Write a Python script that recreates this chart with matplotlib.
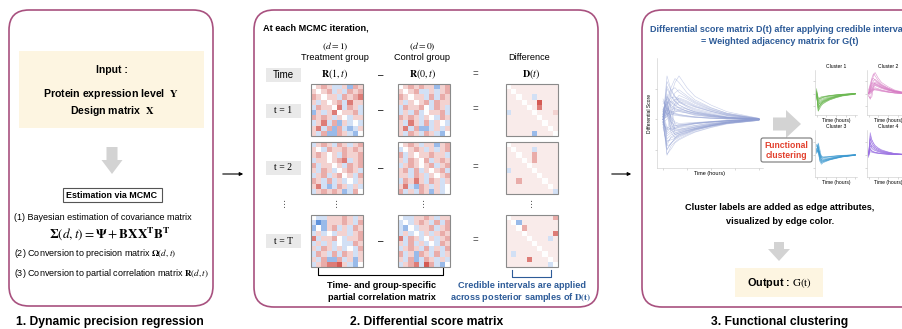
import numpy as np
import matplotlib.pyplot as plt
from matplotlib.patches import FancyBboxPatch, Rectangle, FancyArrow
from matplotlib.colors import LinearSegmentedColormap

plt.rcParams['font.family'] = ['Liberation Sans', 'DejaVu Sans']
plt.rcParams['mathtext.fontset'] = 'stix'

# time grid of the differential score curves (hours)
times = [0, 1, 2, 3, 4, 6, 8, 12, 16, 24]

# clustered differential score curves
cluster1 = [
    [0.05, -0.70, -0.52, -0.44, -0.38, -0.30, -0.24, -0.15, -0.08, -0.01],
    [0.15, -0.60, -0.46, -0.40, -0.35, -0.28, -0.22, -0.13, -0.07, 0.00],
    [-0.10, -0.52, -0.48, -0.36, -0.30, -0.25, -0.19, -0.12, -0.06, 0.01],
    [0.00, -0.45, -0.36, -0.33, -0.29, -0.23, -0.18, -0.11, -0.05, 0.00],
    [0.20, -0.38, -0.30, -0.27, -0.24, -0.19, -0.15, -0.09, -0.04, 0.01],
    [-0.05, -0.68, -0.58, -0.46, -0.40, -0.32, -0.25, -0.16, -0.09, -0.02],
    [-0.15, -0.50, -0.34, -0.30, -0.27, -0.21, -0.17, -0.10, -0.05, 0.00],
    [0.10, -0.42, -0.40, -0.37, -0.32, -0.26, -0.20, -0.12, -0.06, 0.00],
    [0.00, -0.32, -0.26, -0.22, -0.20, -0.16, -0.12, -0.07, -0.03, 0.01],
    [-0.05, -0.58, -0.47, -0.38, -0.33, -0.27, -0.21, -0.13, -0.07, -0.01],
    [0.05, -0.20, -0.18, -0.15, -0.13, -0.10, -0.08, -0.05, -0.02, 0.00],
    [-0.05, -0.25, -0.15, -0.12, -0.11, -0.09, -0.07, -0.04, -0.02, 0.00],
    [0.10, -0.15, -0.20, -0.17, -0.14, -0.11, -0.08, -0.05, -0.03, 0.00],
    [0.00, -0.28, -0.22, -0.18, -0.15, -0.12, -0.09, -0.06, -0.03, 0.01],
]
cluster2 = [
    [0.00, 0.22, 0.48, 0.72, 0.85, 0.62, 0.45, 0.28, 0.15, 0.02],
    [0.05, 0.18, 0.36, 0.52, 0.58, 0.46, 0.35, 0.22, 0.12, 0.01],
    [-0.05, -0.22, 0.10, 0.32, 0.42, 0.36, 0.28, 0.18, 0.10, 0.00],
    [0.10, 0.32, 0.42, 0.44, 0.40, 0.34, 0.26, 0.16, 0.09, 0.02],
    [0.00, 0.12, 0.27, 0.37, 0.47, 0.40, 0.31, 0.19, 0.10, 0.01],
    [-0.10, -0.18, -0.12, 0.26, 0.33, 0.27, 0.21, 0.13, 0.07, 0.00],
    [0.05, 0.27, 0.57, 0.62, 0.53, 0.43, 0.33, 0.20, 0.11, 0.01],
    [0.00, 0.06, 0.21, 0.30, 0.35, 0.30, 0.24, 0.15, 0.08, 0.00],
    [0.15, 0.38, 0.62, 0.80, 0.72, 0.52, 0.38, 0.23, 0.12, 0.02],
    [0.00, 0.14, 0.32, 0.40, 0.38, 0.32, 0.25, 0.16, 0.08, 0.01],
    [0.00, 0.05, 0.12, 0.18, 0.20, 0.17, 0.13, 0.08, 0.04, 0.00],
    [0.05, 0.10, 0.15, 0.16, 0.15, 0.13, 0.10, 0.06, 0.03, 0.00],
    [-0.05, 0.00, 0.08, 0.14, 0.18, 0.15, 0.12, 0.07, 0.03, 0.00],
    [0.00, 0.08, 0.18, 0.22, 0.24, 0.20, 0.15, 0.09, 0.04, 0.01],
]
cluster3 = [
    [0.30, 0.40, -0.08, -0.26, -0.24, -0.21, -0.18, -0.12, -0.07, -0.01],
    [0.20, 0.30, 0.05, -0.20, -0.21, -0.18, -0.15, -0.10, -0.06, 0.00],
    [0.35, 0.25, -0.15, -0.30, -0.27, -0.23, -0.19, -0.13, -0.08, -0.02],
    [0.15, 0.45, 0.20, -0.10, -0.16, -0.14, -0.12, -0.08, -0.05, 0.00],
    [0.25, 0.10, -0.20, -0.29, -0.26, -0.22, -0.18, -0.12, -0.07, -0.01],
    [0.10, 0.35, 0.00, -0.18, -0.19, -0.17, -0.14, -0.09, -0.05, 0.00],
    [0.40, 0.20, -0.05, -0.23, -0.22, -0.19, -0.16, -0.11, -0.06, -0.01],
    [0.05, 0.15, -0.25, -0.36, -0.30, -0.25, -0.20, -0.14, -0.08, -0.02],
    [0.12, 0.18, 0.02, -0.08, -0.10, -0.09, -0.07, -0.05, -0.03, 0.00],
    [0.18, 0.12, -0.05, -0.12, -0.12, -0.10, -0.08, -0.05, -0.03, 0.00],
    [0.08, 0.22, 0.06, -0.05, -0.08, -0.07, -0.06, -0.04, -0.02, 0.00],
]
cluster4 = [
    [0.00, 0.85, 0.58, 0.45, 0.36, 0.26, 0.19, 0.11, 0.05, 0.01],
    [0.05, 0.60, 0.44, 0.35, 0.28, 0.21, 0.15, 0.09, 0.04, 0.00],
    [-0.05, 0.45, 0.33, 0.27, 0.22, 0.16, 0.12, 0.07, 0.03, 0.00],
    [0.00, 0.74, 0.56, 0.44, 0.34, 0.24, 0.17, 0.10, 0.05, 0.01],
    [0.10, 0.35, 0.27, 0.22, 0.18, 0.13, 0.09, 0.05, 0.02, 0.00],
    [-0.10, 0.50, 0.24, 0.19, 0.16, 0.12, 0.08, 0.05, 0.02, 0.00],
    [0.00, 0.30, 0.36, 0.29, 0.23, 0.16, 0.11, 0.06, 0.03, 0.00],
    [0.05, 0.65, 0.47, 0.36, 0.28, 0.20, 0.14, 0.08, 0.04, 0.01],
    [0.00, 0.18, 0.14, 0.11, 0.09, 0.07, 0.05, 0.03, 0.01, 0.00],
    [0.05, 0.22, 0.16, 0.12, 0.10, 0.07, 0.05, 0.03, 0.01, 0.00],
    [-0.05, 0.12, 0.10, 0.08, 0.07, 0.05, 0.04, 0.02, 0.01, 0.00],
    [0.00, 0.25, 0.12, 0.10, 0.08, 0.06, 0.04, 0.02, 0.01, 0.00],
]
cluster_names = ['Cluster 1', 'Cluster 2', 'Cluster 3', 'Cluster 4']
cluster_colors = ['#6cb852', '#d77cc4', '#3a98d0', '#9a70e2']

# partial correlation matrices, coded by level
levels = {'B': -0.7, 'b': -0.45, 'c': -0.2, '0': 0.0,
          'p': 0.09, '1': 0.2, '2': 0.38, '3': 0.6, '4': 0.75}
treat_t1 = ["0121cc1b21", "1012c1c212", "21011c2123", "1c1012c311", "c21103c21c",
            "b1c130112c", "2121c10c11", "c13c2b1c0c", "13c2b2cbc1", "1c2bb21cb0"]
ctrl_t1 = ["0121211b12", "1012cc1c12", "21011c2c21", "1c1012c211", "c21120c21c",
           "c1c2c0112c", "2121c10c21", "1c31c2c10c", "13c2bbc1c1", "1c21c21cb0"]
diff_t1 = ["0ppppppppp", "p0pppppppp", "pp0ppcpppp", "ppp0pp4ppp", "pppp0p3ppp",
           "cpppp0ppp1", "pppppp0ppp", "ppppppp0pp", "pppppppp0p", "pppppbppp0"]
treat_t2 = ["c121c21c12", "10c2112121", "12101c2112", "c110123c12", "2c1101c212",
            "1c21c0121c", "c12c1201c2", "21c2c1c0c1", "13cbc21c1c", "c12121bc20"]
ctrl_t2 = ["0121c11b12", "c0121c1c12", "2c1011211c", "1c2102c121", "c121012c12",
           "12c2c1012c", "11c21c1012", "c2131c21c1", "13cb21c1c0", "2c1c21b1c0"]
diff_t2 = ["0ppppppppp", "p0pppcpppp", "pp0pp2pppp", "ppp0p2pppp", "pppp0ppppp",
           "cpppp0pppp", "pppppp0ppp", "pp2pppp0pp", "pppppppp0p", "pppppppppc"]
treat_tT = ["0cc11121c1", "cBb11121c2", "b0b12c1c21", "c1c0c11c12", "3c1120c112",
            "c1c1c0cc21", "1c21c1c0c2", "c21c2c21c1", "1c2bb2c1b1", "c123341cb0"]
ctrl_tT = ["0cc1121c11", "c0c121c2c2", "cb0c112c12", "c1c0c1c121", "3c21c01c12",
           "1c2c1c0c21", "c121c2c1c2", "2c1b21c2c1", "1c2bc21c1c", "c123c42cb0"]
diff_tT = ["0pppppppp2", "p0bppppppp", "pp02pppppp", "ppp0ppppp3", "pppp0pppcp",
           "ppppp0pppp", "pppppp0ppp", "pcppppp0pp", "pppp3ppp0p", "ppppppppc0"]

BORDER = '#a8517f'
BEIGE = '#fdf5e1'
BLUE = '#2d5b98'
RED = '#e2402d'
ARROW_GRAY = '#d3d3d3'
W, H = 903, 329

cmap = LinearSegmentedColormap.from_list('corr', ['#4a84d8', '#ffffff', '#d2514a'])

fig = plt.figure(figsize=(W / 100, H / 100), dpi=100)
ax = fig.add_axes([0, 0, 1, 1])
ax.axis('off')


def px_axes(x0, y0, x1, y1):
    return fig.add_axes([x0 / W, 1 - y1 / H, (x1 - x0) / W, (y1 - y0) / H])


def panel(x, y, w, h):
    ax.add_patch(FancyBboxPatch((x, y), w, h, boxstyle='round,pad=0,rounding_size=20',
                                fc='white', ec=BORDER, lw=1.2, zorder=0.1))


def heatmap(rows, x0, y0, size=52):
    m = np.array([[levels[ch] for ch in r] for r in rows])
    ax.imshow(m, cmap=cmap, vmin=-0.8, vmax=0.8, extent=(x0, x0 + size, y0 + size, y0),
              aspect='auto', interpolation='nearest', zorder=2)
    ax.add_patch(Rectangle((x0, y0), size, size, fill=False, ec='#8a8a8a', lw=0.8, zorder=3))


def down_arrow(x, y0, y1, w, hw, hl):
    ax.add_patch(FancyArrow(x, y0, 0, y1 - y0, width=w, head_width=hw, head_length=hl,
                            length_includes_head=True, color=ARROW_GRAY, lw=0))


panel(9, 10, 204, 296)
panel(254, 10, 344, 297)
panel(642, 10, 320, 297)

for xc, cap in [(110, '1. Dynamic precision regression'), (427, '2. Differential score matrix'),
                (780, '3. Functional clustering')]:
    ax.text(xc, 322, cap, ha='center', va='center', fontsize=8.7, weight='bold')

for x0, x1 in [(220, 246), (609, 634)]:
    ax.annotate('', xy=(x1, 174), xytext=(x0, 174),
                arrowprops=dict(arrowstyle='-|>', color='black', lw=0.8, mutation_scale=5))

# panel 1: dynamic precision regression
ax.add_patch(Rectangle((19, 51), 185, 77, fc=BEIGE, ec='none'))
ax.text(112, 70, 'Input :', ha='center', va='center', fontsize=7.5, weight='bold')
ax.text(111, 94, r'Protein expression level  $\mathbf{Y}$', ha='center', va='center',
        fontsize=7.6, weight='bold')
ax.text(112, 111, r'Design matrix  $\mathbf{X}$', ha='center', va='center', fontsize=7.6, weight='bold')
down_arrow(112, 147, 174, 11, 21, 14)
ax.add_patch(Rectangle((63, 188), 99, 14, fc='white', ec='#555555', lw=0.8))
ax.text(112, 195, 'Estimation via MCMC', ha='center', va='center', fontsize=6.4, weight='bold')
ax.text(14, 218, '(1) Bayesian estimation of covariance matrix', va='center', fontsize=6.5)
ax.text(110, 234, r'$\mathbf{\Sigma}(d,t) = \mathbf{\Psi} + \mathbf{BXX^{T}B^{T}}$',
        ha='center', va='center', fontsize=9.5)
ax.text(14, 253, r'(2) Conversion to precision matrix $\mathbf{\Omega}(d,t)$', va='center',
        fontsize=6.5)
ax.text(14, 273, r'(3) Conversion to partial correlation matrix $\mathbf{R}(d,t)$',
        va='center', fontsize=6.5)

# panel 2: differential score matrix
ax.text(263, 28, 'At each MCMC iteration,', va='center', fontsize=6.6, weight='bold')
ax.text(335, 47, r'$(d = 1)$', ha='center', va='center', fontsize=6.8)
ax.text(335, 58, 'Treatment group', ha='center', va='center', fontsize=6.6)
ax.text(422, 47, r'$(d = 0)$', ha='center', va='center', fontsize=6.8)
ax.text(422, 58, 'Control group', ha='center', va='center', fontsize=6.6)
ax.text(529, 58, 'Difference', ha='center', va='center', fontsize=6.6)

row_centers = [75, 110.5, 168, 241]
row_labels = ['Time', 't = 1', 't = 2', 't = T']
for yc, lab in zip(row_centers, row_labels):
    ax.add_patch(Rectangle((266, yc - 7), 35, 14, fc='#e9e9e9', ec='none'))
    fam = ['Liberation Sans'] if lab == 'Time' else ['Liberation Serif', 'DejaVu Serif']
    ax.text(283.5, yc, lab, ha='center', va='center', fontsize=7, family=fam)
    ax.text(381, yc, '–', ha='center', va='center', fontsize=7)
    ax.text(475, yc - 1, '=', ha='center', va='center', fontsize=7, color='#444444')

ax.text(335, 74, r'$\mathbf{R}(1,t)$', ha='center', va='center', fontsize=7.2)
ax.text(423, 74, r'$\mathbf{R}(0,t)$', ha='center', va='center', fontsize=7.2)
ax.text(531, 74, r'$\mathbf{D}(t)$', ha='center', va='center', fontsize=7.2)

for top, mats in [(84, (treat_t1, ctrl_t1, diff_t1)), (142, (treat_t2, ctrl_t2, diff_t2)),
                  (215, (treat_tT, ctrl_tT, diff_tT))]:
    for x0, mat in zip([311, 398, 506], mats):
        heatmap(mat, x0, top)

for xd in [285, 337, 424, 532]:
    ax.text(xd, 205, '⋮', ha='center', va='center', fontsize=6.5,
            family=['DejaVu Sans'], color='#555555')

ax.plot([318, 318, 443, 443], [268, 275, 275, 268], color='black', lw=0.8)
ax.plot([512, 512, 551, 551], [270, 277, 277, 270], color=BLUE, lw=0.8)
ax.text(382, 285, 'Time- and group-specific', ha='center', va='center', fontsize=6.6, weight='bold')
ax.text(382, 297, 'partial correlation matrix', ha='center', va='center', fontsize=6.6, weight='bold')
ax.text(522, 285, 'Credible intervals are applied', ha='center', va='center', fontsize=6.6,
        weight='bold', color=BLUE)
ax.text(521, 297, r'across posterior samples of $\mathbf{D(t)}$', ha='center', va='center',
        fontsize=6.6, weight='bold', color=BLUE)

# panel 3: functional clustering (the frame runs past the right edge)
ax.text(780, 29, 'Differential score matrix D(t) after applying credible intervals',
        ha='center', va='center', fontsize=6.5, weight='bold', color=BLUE)
ax.text(780, 42, '= Weighted adjacency matrix for G(t)', ha='center', va='center',
        fontsize=6.5, weight='bold', color=BLUE)
ax.add_patch(FancyArrow(773, 124, 28, 0, width=13, head_width=28, head_length=15,
                        length_includes_head=True, color=ARROW_GRAY, lw=0))
ax.add_patch(FancyBboxPatch((761, 138), 51, 24, boxstyle='round,pad=0,rounding_size=2',
                            fc='white', ec='#777777', lw=0.8))
ax.text(786, 145, 'Functional', ha='center', va='center', fontsize=6.2, weight='bold', color=RED)
ax.text(786, 156, 'clustering', ha='center', va='center', fontsize=6.2, weight='bold', color=RED)
ax.text(780, 207, 'Cluster labels are added as edge attributes,', ha='center', va='center',
        fontsize=6.6, weight='bold')
ax.text(780, 221, 'visualized by edge color.', ha='center', va='center', fontsize=6.6, weight='bold')
down_arrow(779, 242, 261, 10, 22, 12)
ax.add_patch(Rectangle((735, 268), 88, 29, fc=BEIGE, ec='none'))
ax.text(779, 283, r'Output : $\mathrm{G(t)}$', ha='center', va='center', fontsize=7.8, weight='bold')

ax.set_xlim(0, W)
ax.set_ylim(H, 0)


def style_small(a, yticks):
    for s in ['top', 'right']:
        a.spines[s].set_visible(False)
    for s in ['left', 'bottom']:
        a.spines[s].set_color('#c8c8c8')
        a.spines[s].set_linewidth(0.4)
    a.set_xticks([0, 6, 12, 18, 24])
    a.set_yticks(yticks)
    a.tick_params(length=1.5, width=0.4, color='#bbbbbb', labelleft=False, labelbottom=False)
    a.patch.set_alpha(0)


all_curves = cluster1 + cluster2 + cluster3 + cluster4
big = px_axes(657, 58, 763, 168)
for c in all_curves:
    big.plot(times, c, color='#8e9dd2', lw=0.4, alpha=0.5)
big.set_xlim(-1.5, 25)
big.set_ylim(-0.95, 1.2)
style_small(big, [-0.6, 0, 0.6])
big.set_xlabel('Time (hours)', fontsize=4, labelpad=1)
big.set_ylabel('Differential Score', fontsize=3.6, labelpad=2)

boxes = [(815, 70, 857, 115), (867, 70, 909, 115), (815, 130, 857, 177), (867, 130, 909, 177)]
for box, name, col, curves in zip(boxes, cluster_names, cluster_colors,
                                  [cluster1, cluster2, cluster3, cluster4]):
    a = px_axes(*box)
    for c in curves:
        a.plot(times, c, color=col, lw=0.45, alpha=0.75)
    a.set_xlim(-1, 25)
    a.set_ylim(-0.85, 0.95)
    style_small(a, [-0.5, 0, 0.5])
    a.set_title(name, fontsize=3.6, pad=1.5)
    a.set_xlabel('Time (hours)', fontsize=3.6, labelpad=0.5)

fig.savefig('out.png', dpi=100)
